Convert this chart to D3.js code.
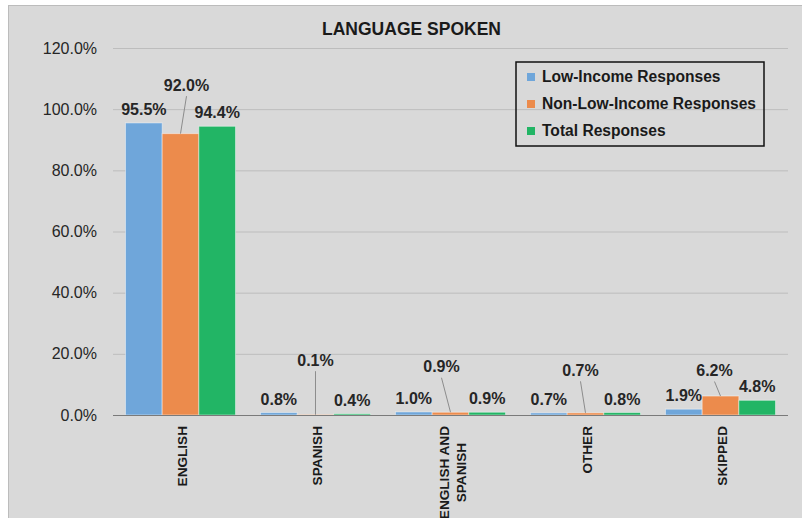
<!DOCTYPE html>
<html>
<head>
<meta charset="utf-8">
<script src="https://cdn.jsdelivr.net/npm/d3@7"></script>
<style>
    body { margin: 0; background: #fff; }
    svg { display: block; font-family: "Liberation Sans", Arial, sans-serif; }
</style>
</head>
<body>
<div class="wrapper"></div>
<script>
const categories = ["ENGLISH", "SPANISH", "ENGLISH AND SPANISH", "OTHER", "SKIPPED"];
const seriesNames = ["Low-Income Responses", "Non-Low-Income Responses", "Total Responses"];
const lowIncome = [0.955, 0.008, 0.010, 0.007, 0.019];
const nonLowIncome = [0.920, 0.001, 0.009, 0.007, 0.062];
const totalResp = [0.944, 0.004, 0.009, 0.008, 0.048];
const yTicks = [0, 0.2, 0.4, 0.6, 0.8, 1.0, 1.2];

// orange labels were dragged by hand in the original, nudge them the same way
const orangeLabelNudge = [[6, -35], [0, -41], [-9, -32], [-5, -29], [-6, -12]];

const colors = ["#6fa6da", "#ec8b4c", "#22b565"];
const seriesValues = [lowIncome, nonLowIncome, totalResp];

const W = 802, H = 518;
const plot = {left: 113, right: 788, top: 48, bottom: 415};

const svg = d3.select(".wrapper").append("svg")
    .attr("width", W)
    .attr("height", H);

// chart frame
svg.append("rect")
    .attr("x", 8.5).attr("y", 5.5)
    .attr("width", W).attr("height", H)
    .attr("fill", "#d9d9d9")
    .attr("stroke", "#bcbcbc");

const x0 = d3.scaleBand()
    .domain(categories)
    .range([plot.left, plot.right])
    .paddingInner(0.185)
    .paddingOuter(0.0925);

const x1 = d3.scaleBand()
    .domain(seriesNames)
    .range([0, x0.bandwidth()]);

const y = d3.scaleLinear()
    .domain([0, 1.2])
    .range([plot.bottom, plot.top]);

const fmt = d3.format(".1%");

// gridlines
svg.append("g")
    .selectAll("line")
    .data(yTicks.filter(d => d > 0))
    .join("line")
    .attr("x1", plot.left).attr("x2", plot.right)
    .attr("y1", d => y(d) + 0.5).attr("y2", d => y(d) + 0.5)
    .attr("stroke", "#bdbdbd");

// y axis labels
const yAxis = svg.append("g")
    .attr("transform", "translate(" + plot.left + ",0)")
    .call(d3.axisLeft(y).tickValues(yTicks).tickFormat(fmt).tickSize(0).tickPadding(16));
yAxis.select(".domain").remove();
yAxis.selectAll("text")
    .attr("font-size", 16)
    .attr("font-family", "Liberation Sans, Arial, sans-serif")
    .attr("fill", "#262626");

// bars
const rows = categories.map((c, i) => ({
    cat: c,
    idx: i,
    vals: seriesNames.map((s, j) => ({series: s, j: j, value: seriesValues[j][i]}))
}));

const groups = svg.append("g")
    .selectAll("g")
    .data(rows)
    .join("g")
    .attr("transform", d => "translate(" + x0(d.cat) + ",0)");

groups.selectAll("rect")
    .data(d => d.vals)
    .join("rect")
    .attr("x", d => x1(d.series))
    .attr("y", d => y(d.value))
    .attr("width", x1.bandwidth())
    .attr("height", d => plot.bottom - y(d.value))
    .attr("fill", d => colors[d.j])
    .attr("stroke", "rgba(255,255,255,0.45)")
    .attr("stroke-width", 1);

// zero axis line
svg.append("line")
    .attr("x1", plot.left).attr("x2", plot.right)
    .attr("y1", plot.bottom + 0.5).attr("y2", plot.bottom + 0.5)
    .attr("stroke", "#7a7a7a")
    .attr("stroke-width", 1.2);

// data labels
groups.each(function (row) {
    const g = d3.select(this);
    row.vals.forEach(v => {
        const cx = x1(v.series) + x1.bandwidth() / 2;
        const top = y(v.value);
        let lx = cx, ly = top - 13.5;
        if (v.j === 1) {
            const n = orangeLabelNudge[row.idx];
            lx += n[0];
            ly += n[1];
            g.append("line")
                .attr("x1", lx).attr("y1", ly + 11)
                .attr("x2", cx).attr("y2", top)
                .attr("stroke", "#8c8c8c")
                .attr("stroke-width", 1);
        }
        g.append("text")
            .attr("x", lx)
            .attr("y", ly)
            .attr("dy", "0.35em")
            .attr("text-anchor", "middle")
            .attr("font-size", 16)
            .attr("font-weight", "bold")
            .attr("fill", "#262626")
            .text(fmt(v.value));
    });
});

// category labels, rotated, wrapped like excel does
function wrap(label, maxChars) {
    const words = label.split(" ");
    const lines = [];
    let cur = "";
    words.forEach(w => {
        const next = cur ? cur + " " + w : w;
        if (next.length > maxChars && cur) {
            lines.push(cur);
            cur = w;
        } else {
            cur = next;
        }
    });
    lines.push(cur);
    return lines;
}

const lineGap = 17;
categories.forEach(c => {
    const lines = wrap(c, 11);
    const cx = x0(c) + x0.bandwidth() / 2;
    const g = svg.append("g")
        .attr("transform", "translate(" + (cx + 2) + "," + (plot.bottom + 11) + ") rotate(-90)");
    const texts = lines.map((l, k) => g.append("text")
        .attr("y", (k - (lines.length - 1) / 2) * lineGap)
        .attr("dy", "0.35em")
        .attr("font-size", 13.6)
        .attr("font-weight", "bold")
        .attr("fill", "#1a1a1a")
        .text(l));
    const maxLen = d3.max(texts, t => t.node().getComputedTextLength());
    texts.forEach(t => t.attr("x", -maxLen / 2).attr("text-anchor", "middle"));
});

// title
svg.append("text")
    .attr("x", 411.5)
    .attr("y", 34.5)
    .attr("text-anchor", "middle")
    .attr("font-size", 17.5)
    .attr("font-weight", "bold")
    .attr("fill", "#1a1a1a")
    .text("LANGUAGE SPOKEN");

// legend
const legend = svg.append("g").attr("transform", "translate(516,62)");
legend.append("rect")
    .attr("width", 248).attr("height", 84)
    .attr("fill", "none")
    .attr("stroke", "#111")
    .attr("stroke-width", 1.5);

const items = legend.selectAll("g.item")
    .data(seriesNames)
    .join("g")
    .attr("class", "item")
    .attr("transform", (d, i) => "translate(0," + (15 + i * 27) + ")");

items.append("rect")
    .attr("x", 11).attr("y", -4)
    .attr("width", 8).attr("height", 8)
    .attr("fill", (d, i) => colors[i]);

items.append("text")
    .attr("x", 26)
    .attr("dy", "0.35em")
    .attr("font-size", 15.6)
    .attr("font-weight", "bold")
    .attr("fill", "#1a1a1a")
    .text(d => d);
</script>
</body>
</html>
